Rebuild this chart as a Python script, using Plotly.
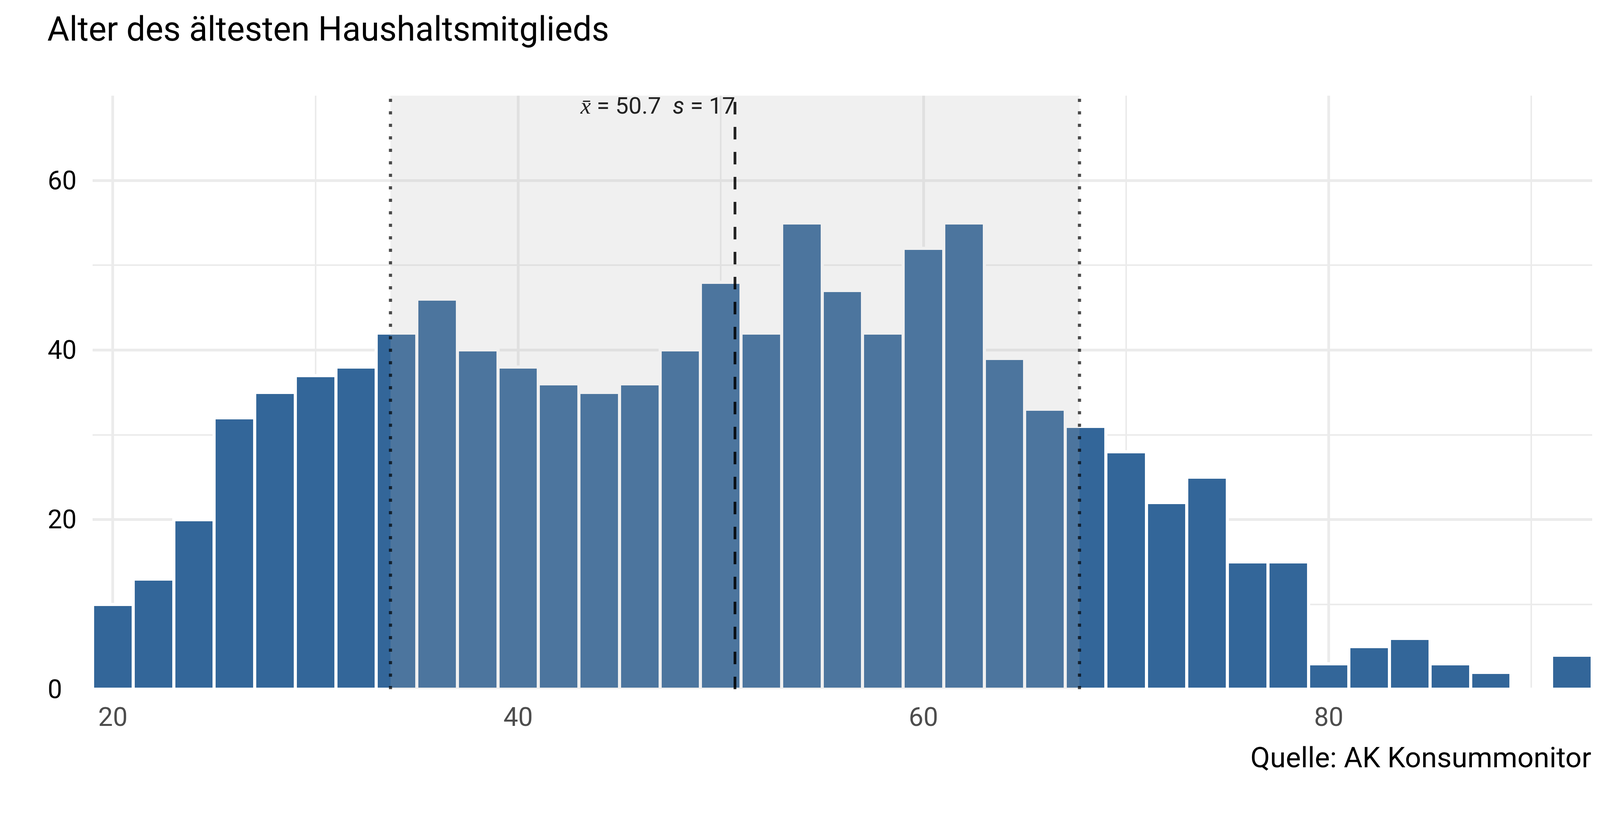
import plotly.graph_objects as go

# Alter des ältesten Haushaltsmitglieds, Histogramm mit Klassenbreite 2
bin_centers = list(range(20, 94, 2))
counts = [10, 13, 20, 32, 35, 37, 38, 42, 46, 40, 38, 36, 35, 36, 40, 48, 42,
          55, 47, 42, 52, 55, 39, 33, 31, 28, 22, 25, 15, 15, 3, 5, 6, 3, 2, 0, 4]
mean_age = 50.7
sd_age = 17
x_ticks = [20, 40, 60, 80]
x_minor = [30, 50, 70, 90]
y_ticks = [0, 20, 40, 60]
y_minor = [10, 30, 50, 70]

title = "Alter des ältesten Haushaltsmitglieds"
caption = "Quelle: AK Konsummonitor"

FONT = "Roboto"
GRID = "#EBEBEB"
BAR = "#336699"

fig = go.Figure()

fig.add_trace(go.Bar(
    x=bin_centers,
    y=counts,
    width=2,
    marker_color=BAR,
    marker_line_color="white",
    marker_line_width=8,
    showlegend=False))

lo = mean_age - sd_age
hi = mean_age + sd_age

# shaded band mean +/- sd, drawn over the bars
fig.add_shape(type="rect", xref="x", yref="paper", x0=lo, x1=hi, y0=0, y1=1,
              fillcolor="rgba(182,182,182,0.2)", line_width=0, layer="above")
for xv in [lo, hi]:
    fig.add_shape(type="line", xref="x", yref="paper", x0=xv, x1=xv, y0=0, y1=1,
                  line=dict(color="rgba(0,0,0,0.7)", width=8, dash="8px,24px"),
                  layer="above")
fig.add_shape(type="line", xref="x", yref="paper", x0=mean_age, x1=mean_age, y0=0, y1=1,
              line=dict(color="rgba(0,0,0,0.85)", width=7, dash="32px,32px"),
              layer="above")

fig.add_annotation(
    x=mean_age, y=70, xref="x", yref="y",
    text="<i>x\u0304</i> = %.1f  <i>s</i> = %d" % (mean_age, sd_age),
    showarrow=False, xanchor="right", yanchor="top", yshift=12, xshift=2,
    font=dict(family=FONT, size=60, color="#222222"))

# y tick labels are left aligned in the original
for v in y_ticks:
    fig.add_annotation(
        x=-0.0305, y=v, xref="paper", yref="y", text=str(v),
        showarrow=False, xanchor="left", yanchor="middle",
        font=dict(family=FONT, size=66, color="black"))

fig.add_annotation(
    x=1, y=-0.1151, xref="paper", yref="paper", text=caption,
    showarrow=False, xanchor="right", yanchor="middle",
    font=dict(family=FONT, size=73, color="black"))

fig.update_layout(
    width=4200, height=2100,
    margin=dict(l=237, r=124, t=245, b=335),
    plot_bgcolor="white", paper_bgcolor="white",
    bargap=0,
    font=dict(family=FONT, color="black"),
    title=dict(text=title, x=121 / 4200, xanchor="left", xref="container",
               y=1 - 74 / 2100, yanchor="middle", yref="container",
               font=dict(family=FONT, size=86.5, color="black")))

fig.update_xaxes(
    range=[19, 93], tickvals=x_ticks, showgrid=True, gridcolor=GRID, gridwidth=7,
    minor=dict(tickvals=x_minor, showgrid=True, gridcolor=GRID, gridwidth=3.5),
    zeroline=False, showline=False, ticks="", ticklabelstandoff=26,
    tickfont=dict(family=FONT, size=67, color="#4D4D4D"))
fig.update_yaxes(
    range=[0, 70], tickvals=y_ticks, showgrid=True, gridcolor=GRID, gridwidth=7,
    minor=dict(tickvals=y_minor, showgrid=True, gridcolor=GRID, gridwidth=3.5),
    zeroline=False, showline=False, ticks="", showticklabels=False)

fig.write_html("out.html", config={"displayModeBar": False},
               post_script="document.body.style.margin='0';")
